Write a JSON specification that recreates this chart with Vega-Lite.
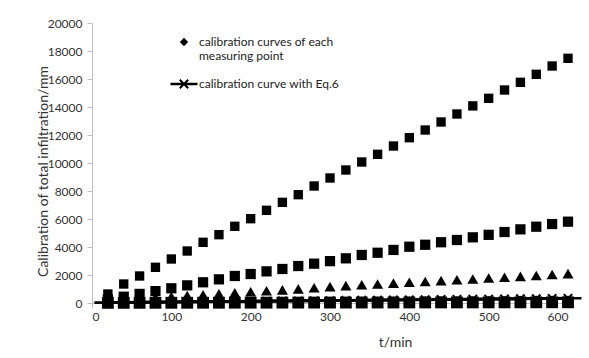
{
  "$schema": "https://vega.github.io/schema/vega-lite/v6.json",
  "width": 476,
  "height": 280,
  "autosize": {"type": "none"},
  "padding": {"left": 92, "top": 23, "right": 21, "bottom": 55},
  "background": "white",
  "config": {
    "view": {"stroke": null},
    "font": "Lato",
    "axis": {
      "grid": false,
      "domainColor": "#bfbfbf",
      "tickColor": "#bfbfbf",
      "tickSize": 5,
      "labelFont": "Lato",
      "labelFontSize": 12,
      "labelColor": "#333333",
      "titleFont": "Lato",
      "titleFontSize": 14,
      "titleFontWeight": "normal",
      "titleColor": "#333333"
    },
    "legend": {
      "labelFont": "Lato",
      "labelFontSize": 12,
      "labelColor": "#222222",
      "labelLimit": 0,
      "padding": 0
    }
  },
  "data": {
    "values": [
      {"t": 20, "value": 60, "series": "measuring point 1"},
      {"t": 40, "value": 70, "series": "measuring point 1"},
      {"t": 60, "value": 80, "series": "measuring point 1"},
      {"t": 80, "value": 90, "series": "measuring point 1"},
      {"t": 100, "value": 100, "series": "measuring point 1"},
      {"t": 120, "value": 110, "series": "measuring point 1"},
      {"t": 140, "value": 115, "series": "measuring point 1"},
      {"t": 160, "value": 120, "series": "measuring point 1"},
      {"t": 180, "value": 130, "series": "measuring point 1"},
      {"t": 200, "value": 135, "series": "measuring point 1"},
      {"t": 220, "value": 140, "series": "measuring point 1"},
      {"t": 240, "value": 150, "series": "measuring point 1"},
      {"t": 260, "value": 155, "series": "measuring point 1"},
      {"t": 280, "value": 160, "series": "measuring point 1"},
      {"t": 300, "value": 165, "series": "measuring point 1"},
      {"t": 320, "value": 170, "series": "measuring point 1"},
      {"t": 340, "value": 175, "series": "measuring point 1"},
      {"t": 360, "value": 180, "series": "measuring point 1"},
      {"t": 380, "value": 185, "series": "measuring point 1"},
      {"t": 400, "value": 190, "series": "measuring point 1"},
      {"t": 420, "value": 195, "series": "measuring point 1"},
      {"t": 440, "value": 200, "series": "measuring point 1"},
      {"t": 460, "value": 205, "series": "measuring point 1"},
      {"t": 480, "value": 210, "series": "measuring point 1"},
      {"t": 500, "value": 215, "series": "measuring point 1"},
      {"t": 520, "value": 220, "series": "measuring point 1"},
      {"t": 540, "value": 225, "series": "measuring point 1"},
      {"t": 560, "value": 230, "series": "measuring point 1"},
      {"t": 580, "value": 235, "series": "measuring point 1"},
      {"t": 600, "value": 240, "series": "measuring point 1"},

      {"t": 20, "value": 643, "series": "measuring point 2"},
      {"t": 40, "value": 1357, "series": "measuring point 2"},
      {"t": 60, "value": 1929, "series": "measuring point 2"},
      {"t": 80, "value": 2550, "series": "measuring point 2"},
      {"t": 100, "value": 3143, "series": "measuring point 2"},
      {"t": 120, "value": 3714, "series": "measuring point 2"},
      {"t": 140, "value": 4336, "series": "measuring point 2"},
      {"t": 160, "value": 4879, "series": "measuring point 2"},
      {"t": 180, "value": 5479, "series": "measuring point 2"},
      {"t": 200, "value": 6021, "series": "measuring point 2"},
      {"t": 220, "value": 6621, "series": "measuring point 2"},
      {"t": 240, "value": 7190, "series": "measuring point 2"},
      {"t": 260, "value": 7736, "series": "measuring point 2"},
      {"t": 280, "value": 8357, "series": "measuring point 2"},
      {"t": 300, "value": 8929, "series": "measuring point 2"},
      {"t": 320, "value": 9500, "series": "measuring point 2"},
      {"t": 340, "value": 10071, "series": "measuring point 2"},
      {"t": 360, "value": 10621, "series": "measuring point 2"},
      {"t": 380, "value": 11214, "series": "measuring point 2"},
      {"t": 400, "value": 11807, "series": "measuring point 2"},
      {"t": 420, "value": 12357, "series": "measuring point 2"},
      {"t": 440, "value": 12929, "series": "measuring point 2"},
      {"t": 460, "value": 13500, "series": "measuring point 2"},
      {"t": 480, "value": 14080, "series": "measuring point 2"},
      {"t": 500, "value": 14621, "series": "measuring point 2"},
      {"t": 520, "value": 15214, "series": "measuring point 2"},
      {"t": 540, "value": 15764, "series": "measuring point 2"},
      {"t": 560, "value": 16336, "series": "measuring point 2"},
      {"t": 580, "value": 16929, "series": "measuring point 2"},
      {"t": 600, "value": 17479, "series": "measuring point 2"},

      {"t": 20, "value": 260, "series": "measuring point 3"},
      {"t": 40, "value": 450, "series": "measuring point 3"},
      {"t": 60, "value": 650, "series": "measuring point 3"},
      {"t": 80, "value": 850, "series": "measuring point 3"},
      {"t": 100, "value": 1050, "series": "measuring point 3"},
      {"t": 120, "value": 1260, "series": "measuring point 3"},
      {"t": 140, "value": 1480, "series": "measuring point 3"},
      {"t": 160, "value": 1690, "series": "measuring point 3"},
      {"t": 180, "value": 1930, "series": "measuring point 3"},
      {"t": 200, "value": 2070, "series": "measuring point 3"},
      {"t": 220, "value": 2260, "series": "measuring point 3"},
      {"t": 240, "value": 2430, "series": "measuring point 3"},
      {"t": 260, "value": 2640, "series": "measuring point 3"},
      {"t": 280, "value": 2810, "series": "measuring point 3"},
      {"t": 300, "value": 2990, "series": "measuring point 3"},
      {"t": 320, "value": 3190, "series": "measuring point 3"},
      {"t": 340, "value": 3430, "series": "measuring point 3"},
      {"t": 360, "value": 3590, "series": "measuring point 3"},
      {"t": 380, "value": 3790, "series": "measuring point 3"},
      {"t": 400, "value": 4020, "series": "measuring point 3"},
      {"t": 420, "value": 4160, "series": "measuring point 3"},
      {"t": 440, "value": 4340, "series": "measuring point 3"},
      {"t": 460, "value": 4500, "series": "measuring point 3"},
      {"t": 480, "value": 4690, "series": "measuring point 3"},
      {"t": 500, "value": 4870, "series": "measuring point 3"},
      {"t": 520, "value": 5070, "series": "measuring point 3"},
      {"t": 540, "value": 5260, "series": "measuring point 3"},
      {"t": 560, "value": 5450, "series": "measuring point 3"},
      {"t": 580, "value": 5640, "series": "measuring point 3"},
      {"t": 600, "value": 5810, "series": "measuring point 3"},

      {"t": 20, "value": 120, "series": "measuring point 4"},
      {"t": 40, "value": 220, "series": "measuring point 4"},
      {"t": 60, "value": 310, "series": "measuring point 4"},
      {"t": 80, "value": 400, "series": "measuring point 4"},
      {"t": 100, "value": 470, "series": "measuring point 4"},
      {"t": 120, "value": 530, "series": "measuring point 4"},
      {"t": 140, "value": 590, "series": "measuring point 4"},
      {"t": 160, "value": 660, "series": "measuring point 4"},
      {"t": 180, "value": 730, "series": "measuring point 4"},
      {"t": 200, "value": 800, "series": "measuring point 4"},
      {"t": 220, "value": 870, "series": "measuring point 4"},
      {"t": 240, "value": 940, "series": "measuring point 4"},
      {"t": 260, "value": 1010, "series": "measuring point 4"},
      {"t": 280, "value": 1090, "series": "measuring point 4"},
      {"t": 300, "value": 1167, "series": "measuring point 4"},
      {"t": 320, "value": 1240, "series": "measuring point 4"},
      {"t": 340, "value": 1300, "series": "measuring point 4"},
      {"t": 360, "value": 1360, "series": "measuring point 4"},
      {"t": 380, "value": 1420, "series": "measuring point 4"},
      {"t": 400, "value": 1480, "series": "measuring point 4"},
      {"t": 420, "value": 1540, "series": "measuring point 4"},
      {"t": 440, "value": 1600, "series": "measuring point 4"},
      {"t": 460, "value": 1660, "series": "measuring point 4"},
      {"t": 480, "value": 1720, "series": "measuring point 4"},
      {"t": 500, "value": 1780, "series": "measuring point 4"},
      {"t": 520, "value": 1840, "series": "measuring point 4"},
      {"t": 540, "value": 1900, "series": "measuring point 4"},
      {"t": 560, "value": 1960, "series": "measuring point 4"},
      {"t": 580, "value": 2030, "series": "measuring point 4"},
      {"t": 600, "value": 2100, "series": "measuring point 4"},

      {"t": 20, "value": 10, "series": "measuring point 5"},
      {"t": 40, "value": 12, "series": "measuring point 5"},
      {"t": 60, "value": 14, "series": "measuring point 5"},
      {"t": 80, "value": 15, "series": "measuring point 5"},
      {"t": 100, "value": 17, "series": "measuring point 5"},
      {"t": 120, "value": 18, "series": "measuring point 5"},
      {"t": 140, "value": 20, "series": "measuring point 5"},
      {"t": 160, "value": 21, "series": "measuring point 5"},
      {"t": 180, "value": 23, "series": "measuring point 5"},
      {"t": 200, "value": 24, "series": "measuring point 5"},
      {"t": 220, "value": 25, "series": "measuring point 5"},
      {"t": 240, "value": 27, "series": "measuring point 5"},
      {"t": 260, "value": 28, "series": "measuring point 5"},
      {"t": 280, "value": 30, "series": "measuring point 5"},
      {"t": 300, "value": 31, "series": "measuring point 5"},
      {"t": 320, "value": 32, "series": "measuring point 5"},
      {"t": 340, "value": 34, "series": "measuring point 5"},
      {"t": 360, "value": 35, "series": "measuring point 5"},
      {"t": 380, "value": 36, "series": "measuring point 5"},
      {"t": 400, "value": 38, "series": "measuring point 5"},
      {"t": 420, "value": 39, "series": "measuring point 5"},
      {"t": 440, "value": 40, "series": "measuring point 5"},
      {"t": 460, "value": 42, "series": "measuring point 5"},
      {"t": 480, "value": 43, "series": "measuring point 5"},
      {"t": 500, "value": 44, "series": "measuring point 5"},
      {"t": 520, "value": 46, "series": "measuring point 5"},
      {"t": 540, "value": 47, "series": "measuring point 5"},
      {"t": 560, "value": 48, "series": "measuring point 5"},
      {"t": 580, "value": 50, "series": "measuring point 5"},
      {"t": 600, "value": 51, "series": "measuring point 5"},

      {"t": 20, "value": 30, "series": "calibration curve with Eq.6"},
      {"t": 40, "value": 40, "series": "calibration curve with Eq.6"},
      {"t": 60, "value": 50, "series": "calibration curve with Eq.6"},
      {"t": 80, "value": 61, "series": "calibration curve with Eq.6"},
      {"t": 100, "value": 71, "series": "calibration curve with Eq.6"},
      {"t": 120, "value": 82, "series": "calibration curve with Eq.6"},
      {"t": 140, "value": 92, "series": "calibration curve with Eq.6"},
      {"t": 160, "value": 103, "series": "calibration curve with Eq.6"},
      {"t": 180, "value": 113, "series": "calibration curve with Eq.6"},
      {"t": 200, "value": 124, "series": "calibration curve with Eq.6"},
      {"t": 220, "value": 134, "series": "calibration curve with Eq.6"},
      {"t": 240, "value": 145, "series": "calibration curve with Eq.6"},
      {"t": 260, "value": 155, "series": "calibration curve with Eq.6"},
      {"t": 280, "value": 166, "series": "calibration curve with Eq.6"},
      {"t": 300, "value": 176, "series": "calibration curve with Eq.6"},
      {"t": 320, "value": 187, "series": "calibration curve with Eq.6"},
      {"t": 340, "value": 197, "series": "calibration curve with Eq.6"},
      {"t": 360, "value": 208, "series": "calibration curve with Eq.6"},
      {"t": 380, "value": 218, "series": "calibration curve with Eq.6"},
      {"t": 400, "value": 229, "series": "calibration curve with Eq.6"},
      {"t": 420, "value": 239, "series": "calibration curve with Eq.6"},
      {"t": 440, "value": 250, "series": "calibration curve with Eq.6"},
      {"t": 460, "value": 260, "series": "calibration curve with Eq.6"},
      {"t": 480, "value": 271, "series": "calibration curve with Eq.6"},
      {"t": 500, "value": 281, "series": "calibration curve with Eq.6"},
      {"t": 520, "value": 292, "series": "calibration curve with Eq.6"},
      {"t": 540, "value": 302, "series": "calibration curve with Eq.6"},
      {"t": 560, "value": 313, "series": "calibration curve with Eq.6"},
      {"t": 580, "value": 323, "series": "calibration curve with Eq.6"},
      {"t": 600, "value": 334, "series": "calibration curve with Eq.6"}
    ]
  },
  "encoding": {
    "x": {
      "field": "t",
      "type": "quantitative",
      "scale": {"domain": [0, 600], "nice": false, "zero": false},
      "axis": {
        "values": [0, 100, 200, 300, 400, 500, 600],
        "format": "d",
        "labelPadding": 3,
        "title": "t/min",
        "titleX": 303,
        "titleY": 39,
        "titleBaseline": "middle",
        "titleAlign": "center"
      }
    },
    "y": {
      "field": "value",
      "type": "quantitative",
      "scale": {"domain": [0, 20000], "nice": false},
      "axis": {
        "values": [0, 2000, 4000, 6000, 8000, 10000, 12000, 14000, 16000, 18000, 20000],
        "format": "d",
        "labelPadding": 5,
        "title": "Calibration of total infiltration/mm",
        "titleAngle": 270,
        "titleX": -49,
        "titleY": 148,
        "titleAlign": "center",
        "titleBaseline": "middle"
      }
    }
  },
  "layer": [
    {
      "transform": [{"filter": "datum.series != 'calibration curve with Eq.6'"}],
      "mark": {"type": "point", "filled": true, "fill": "black", "strokeWidth": 0, "opacity": 1},
      "encoding": {
        "shape": {
          "field": "series",
          "type": "nominal",
          "scale": {
            "domain": ["measuring point 1", "measuring point 2", "measuring point 3", "measuring point 4", "measuring point 5", "calibration curve with Eq.6"],
            "range": ["diamond", "square", "square", "triangle-up", "square", "M-3.23,-0.31L3.23,-0.31L3.23,0.31L-3.23,0.31ZM-0.835,-1.173L1.173,0.835L0.835,1.173L-1.173,-0.835ZM1.173,-0.835L-0.835,1.173L-1.173,0.835L0.835,-1.173Z"]
          },
          "legend": {
            "title": null,
            "orient": "none",
            "legendX": 86,
            "legendY": 13,
            "values": ["measuring point 1", "calibration curve with Eq.6"],
            "labelExpr": "datum.label == 'measuring point 1' ? ['calibration curves of each', 'measuring point'] : datum.label",
            "labelOffset": 9,
            "rowPadding": 14,
            "symbolSize": 70,
            "symbolFillColor": "black",
            "symbolOpacity": 1
          }
        },
        "size": {
          "field": "series",
          "type": "ordinal",
          "scale": {
            "domain": ["measuring point 1", "measuring point 2", "measuring point 3", "measuring point 4", "measuring point 5"],
            "range": [70, 140, 55, 210, 130]
          },
          "legend": null
        }
      }
    },
    {
      "transform": [{"filter": "datum.series == 'calibration curve with Eq.6'"}],
      "mark": {"type": "line", "color": "black", "strokeWidth": 3},
      "encoding": {}
    },
    {
      "transform": [{"filter": "datum.series == 'calibration curve with Eq.6'"}],
      "mark": {"type": "point", "filled": true, "fill": "black", "strokeWidth": 0, "size": 70, "opacity": 1},
      "encoding": {
        "shape": {"field": "series", "type": "nominal"}
      }
    }
  ]
}
